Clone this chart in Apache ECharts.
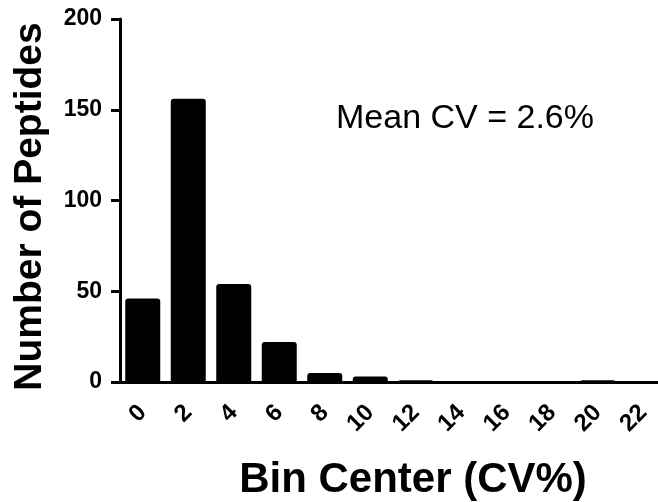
<!DOCTYPE html>
<html>
<head>
<meta charset="utf-8">
<script src="https://cdn.jsdelivr.net/npm/echarts@6/dist/echarts.min.js"></script>
<style>
    html, body { margin: 0; padding: 0; background: #fff; }
    #container { width: 658px; height: 502px; }
</style>
</head>
<body>
<div id="container"></div>
<script>
// bin centers (CV%) and peptide counts per bin
var binCenters = ['0', '2', '4', '6', '8', '10', '12', '14', '16', '18', '20', '22'];
var peptideCounts = [46, 156, 54, 22, 5, 3, 1, 0, 0, 0, 1, 0];
var yTicks = [0, 200, 50];   // min, max, interval
var meanText = 'Mean CV = 2.6%';

var font = '"Liberation Sans", Arial, Helvetica, sans-serif';
var myChart = echarts.init(document.getElementById('container'));
var option = {
    animation: false,
    grid: {
        left: 120,
        top: 19,
        width: 546,
        height: 363,
        outerBoundsMode: 'none',
        containLabel: false
    },
    xAxis: {
        type: 'category',
        data: binCenters,
        name: 'Bin Center (CV%)',
        nameLocation: 'middle',
        nameGap: 77,
        nameTextStyle: {
            color: '#000',
            fontFamily: font,
            fontWeight: 'bold',
            fontSize: 42,
            padding: [0, 0, 0, 40]
        },
        axisLine: {lineStyle: {color: '#000', width: 3}},
        axisTick: {alignWithLabel: true, length: 9, lineStyle: {color: '#000', width: 3}},
        axisLabel: {
            rotate: 45,
            margin: 27,
            color: '#000',
            fontFamily: font,
            fontWeight: 'bold',
            fontSize: 24
        },
        splitLine: {show: false}
    },
    yAxis: {
        type: 'value',
        min: yTicks[0],
        max: yTicks[1],
        interval: yTicks[2],
        name: 'Number of Peptides',
        nameLocation: 'middle',
        nameGap: 70,
        nameTextStyle: {
            color: '#000',
            fontFamily: font,
            fontWeight: 'bold',
            fontSize: 39,
            padding: [0, 12, 0, 0]
        },
        axisLine: {show: true, lineStyle: {color: '#000', width: 3}},
        axisTick: {show: true, length: 9, lineStyle: {color: '#000', width: 3}},
        axisLabel: {
            margin: 18,
            color: '#000',
            fontFamily: font,
            fontWeight: 'bold',
            fontSize: 23
        },
        splitLine: {show: false}
    },
    graphic: [{
        type: 'text',
        left: 336,
        top: 102,
        style: {
            text: meanText,
            fill: '#000',
            font: '34px ' + font
        }
    }],
    series: [{
        type: 'bar',
        data: peptideCounts,
        barWidth: 35,
        itemStyle: {color: '#000', borderRadius: [3, 3, 0, 0]}
    }]
};
myChart.setOption(option);
</script>
</body>
</html>
